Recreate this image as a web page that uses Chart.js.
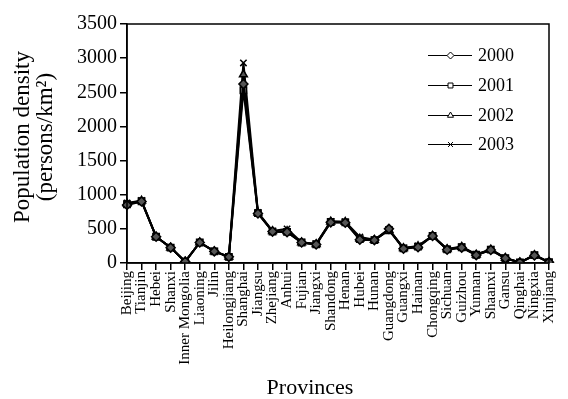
<!DOCTYPE html>
<html>
<head>
<meta charset="utf-8">
<script src="https://cdn.jsdelivr.net/npm/chart.js@4"></script>
<style>
  html, body { margin: 0; padding: 0; background: #fff; }
  #wrap { width: 568px; height: 399px; }
</style>
</head>
<body>
<div id="wrap"><canvas id="c" width="568" height="399"></canvas></div>
<script>
const provinces = ["Beijing","Tianjin","Hebei","Shanxi","Inner Mongolia","Liaoning","Jilin","Heilongjiang","Shanghai","Jiangsu","Zhejiang","Anhui","Fujian","Jiangxi","Shandong","Henan","Hubei","Hunan","Guangdong","Guangxi","Hainan","Chongqing","Sichuan","Guizhou","Yunnan","Shaanxi","Gansu","Qinghai","Ningxia","Xinjiang"];

const years = ["2000","2001","2002","2003"];

const d2000 = [850, 900, 385, 225, 20, 300, 170, 90, 2620, 725, 460, 450, 300, 270, 595, 590, 340, 335, 500, 210, 230, 395, 195, 225, 115, 190, 70, 7, 110, 12];
const d2001 = [860, 905, 385, 225, 20, 300, 170, 90, 2530, 730, 460, 455, 300, 275, 600, 595, 350, 335, 480, 215, 240, 395, 200, 230, 120, 195, 70, 7, 115, 12];
const d2002 = [870, 910, 385, 225, 20, 300, 170, 90, 2760, 735, 465, 465, 300, 275, 605, 600, 355, 335, 485, 215, 245, 395, 200, 235, 120, 195, 72, 7, 115, 12];
const d2003 = [880, 915, 385, 225, 20, 300, 175, 90, 2930, 740, 470, 500, 305, 280, 610, 605, 380, 340, 490, 220, 250, 400, 205, 240, 125, 200, 75, 8, 120, 13];

const yTicks = [0, 500, 1000, 1500, 2000, 2500, 3000, 3500];

const markers = ["rectRot", "rect", "triangle", "crossRot"];
const series = [d2000, d2001, d2002, d2003];

const serif = "'Liberation Serif', 'Times New Roman', serif";
const yTitle = ["Population density", "(persons/km²)"];
const xTitle = "Provinces";

// frame around the plotting area plus the two axis titles
const framePlugin = {
  id: 'frame',
  afterDraw(chart) {
    const a = chart.chartArea, ctx = chart.ctx;
    ctx.save();
    ctx.strokeStyle = '#000';
    ctx.lineWidth = 1.5;
    ctx.strokeRect(a.left, a.top, a.right - a.left, a.bottom - a.top);

    ctx.fillStyle = '#000';
    ctx.textAlign = 'center';
    ctx.textBaseline = 'middle';
    ctx.font = "22px " + serif;
    ctx.fillText(xTitle, 310, 388);

    ctx.font = "23px " + serif;
    ctx.translate(0, 137);
    ctx.rotate(-Math.PI / 2);
    ctx.fillText(yTitle[0], 0, 23);
    ctx.fillText(yTitle[1], 0, 46);
    ctx.restore();
  }
};

// legend placed inside the plotting area, top right
const insideLegend = {
  id: 'insideLegend',
  afterDraw(chart) {
    const ctx = chart.ctx;
    const x0 = 428, x1 = 472, tx = 478;
    const rows = [55, 85, 115, 144];
    ctx.save();
    chart.data.datasets.forEach((ds, i) => {
      const y = rows[i] + 0.5;
      ctx.strokeStyle = '#000';
      ctx.lineWidth = 1;
      ctx.beginPath();
      ctx.moveTo(x0, y); ctx.lineTo(x1, y);
      ctx.stroke();
      ctx.fillStyle = '#fff';
      ctx.strokeStyle = '#000';
      ctx.lineWidth = 1;
      Chart.helpers.drawPoint(ctx, {
        pointStyle: ds.pointStyle, radius: 3.5, rotation: 0, borderWidth: 1
      }, (x0 + x1) / 2 + 0.5, y);
      ctx.fillStyle = '#000';
      ctx.font = "18px " + serif;
      ctx.textBaseline = 'middle';
      ctx.textAlign = 'left';
      ctx.fillText(ds.label, tx, y + 1);
    });
    ctx.restore();
  }
};

new Chart(document.getElementById('c'), {
  type: 'line',
  data: {
    labels: provinces,
    datasets: years.map((y, i) => ({
      label: y,
      data: series[i],
      borderColor: '#000',
      borderWidth: 2,
      pointStyle: markers[i],
      pointRadius: 4.5,
      pointBorderWidth: 1.5,
      pointBorderColor: '#000',
      pointBackgroundColor: '#555',
      tension: 0,
      fill: false
    }))
  },
  options: {
    responsive: false,
    animation: false,
    layout: { padding: { top: 24, right: 2, left: 0, bottom: 0 } },
    plugins: {
      legend: { display: false },
      tooltip: { enabled: false }
    },
    scales: {
      x: {
        offset: false,
        grid: { drawOnChartArea: false, drawTicks: true, tickLength: 7, color: '#000', lineWidth: 1.5 },
        border: { display: true, color: '#000', width: 1.5 },
        ticks: {
          autoSkip: false, minRotation: 90, maxRotation: 90,
          color: '#000', padding: 1,
          font: { family: serif, size: 15 }
        },
        afterFit(s) { s.height = 136; }
      },
      y: {
        min: 0, max: 3500,
        afterBuildTicks(s) { s.ticks = yTicks.map(v => ({ value: v })); },
        grid: { drawOnChartArea: false, drawTicks: true, tickLength: 7, color: '#000', lineWidth: 1.5 },
        border: { display: true, color: '#000', width: 1.5 },
        ticks: {
          color: '#000', padding: 3,
          font: { family: serif, size: 20 },
          callback: v => String(v)
        },
        afterFit(s) { s.width = 127; }
      }
    }
  },
  plugins: [framePlugin, insideLegend]
});
</script>
</body>
</html>
